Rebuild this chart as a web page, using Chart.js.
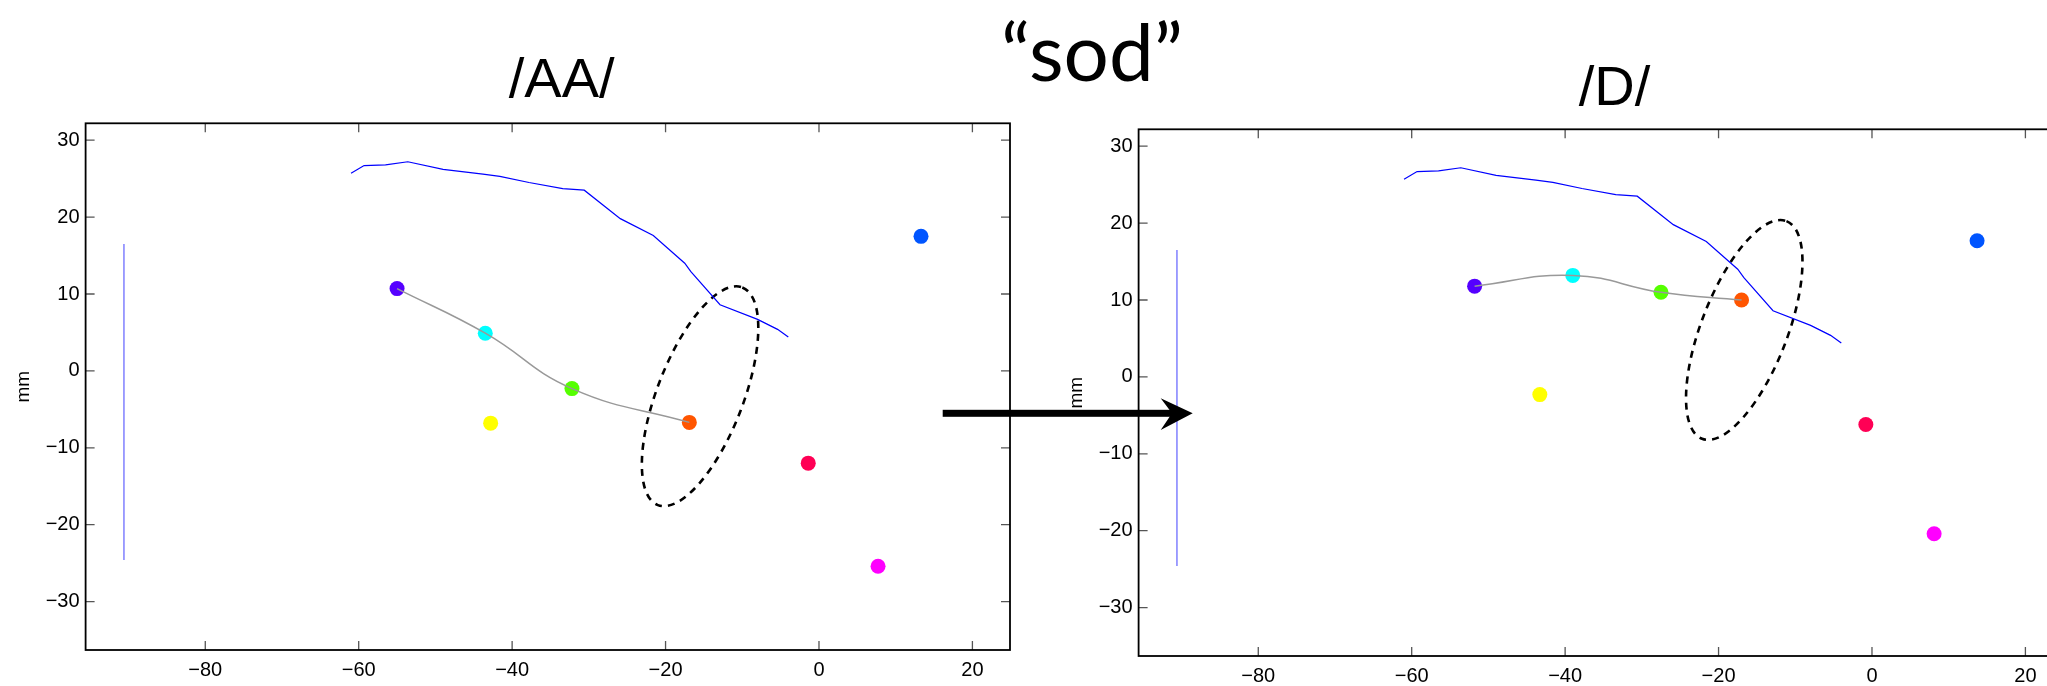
<!DOCTYPE html>
<html>
<head>
<meta charset="utf-8">
<script src="https://cdn.jsdelivr.net/npm/chart.js@4.4.1/dist/chart.umd.min.js"></script>
<style>
  html, body { margin: 0; padding: 0; background: #fff; }
  body { width: 2047px; height: 686px; overflow: hidden; position: relative; }
  .panel { position: absolute; width: 1030px; height: 686px; }
  #panelAA { left: 0; top: 0; }
  #panelD { left: 1052.7px; top: 6px; }
  #overlay { position: absolute; left: 0; top: 0; }
</style>
</head>
<body>
<div class="panel" id="panelAA"><canvas id="chartAA"></canvas></div>
<div class="panel" id="panelD"><canvas id="chartD"></canvas></div>
<svg id="overlay" width="2047" height="686">
  <text x="561.7" y="96.7" text-anchor="middle" font-family="Liberation Sans, Arial, sans-serif" font-size="56">/AA/</text>
  <text x="1614.5" y="105" text-anchor="middle" font-family="Liberation Sans, Arial, sans-serif" font-size="56">/D/</text>
  <text x="1092" y="81" text-anchor="middle" font-family="Lato, sans-serif" font-size="80">“sod”</text>
  <rect x="942.7" y="409.8" width="232" height="7" fill="#000"/>
  <polygon points="1192.7,413.3 1160.7,398.3 1172,413.3 1160.7,430" fill="#000"/>
</svg>
<script>
// palate trace (same in both panels)
const palateX = [-61.0, -59.3, -56.5, -53.6, -49.0, -43.8, -41.6, -37.8, -33.4, -30.6, -25.9, -21.6, -17.5, -16.7, -12.9, -8.0, -5.4, -4.0];
const palateY = [25.7, 26.7, 26.8, 27.2, 26.2, 25.6, 25.3, 24.5, 23.7, 23.5, 19.8, 17.6, 14.0, 12.9, 8.6, 6.7, 5.4, 4.4];

// reference line at the incisors
const refLineX = [-90.6, -90.6];
const refLineY = [16.5, -24.6];

// sensor colours; the first four sit on the tongue contour
const sensorColors = ['#5500ff', '#00ffff', '#55ff00', '#ff5500', '#ffff00', '#ff0055', '#ff00ff', '#0055ff'];
const aaSensorX = [-55.0, -43.5, -32.2, -16.9, -42.8, -1.4, 7.7, 13.3];
const aaSensorY = [10.7, 4.9, -2.3, -6.7, -6.8, -12.0, -25.4, 17.5];
const dSensorX = [-51.8, -39.0, -27.5, -17.0, -43.3, -0.8, 8.1, 13.7];
const dSensorY = [11.8, 13.2, 11.0, 10.0, -2.3, -6.2, -20.4, 17.7];
const tongueCount = 4;

// target ellipse: centre per panel, semi-axes and tilt (deg)
const aaEllipseCenter = [-15.5, -3.3];
const dEllipseCenter = [-16.65, 6.1];
const ellipseAxes = [15.2, 5.6];
const ellipseAngle = 68.8;

const xTicks = [-80, -60, -40, -20, 0, 20];
const yTicks = [-30, -20, -10, 0, 10, 20, 30];

const toPoints = (xs, ys) => xs.map((v, i) => ({ x: v, y: ys[i] }));
const fmt = v => (v < 0 ? '\u2212' + Math.abs(v) : String(v));

// box around the axes with inward ticks on all sides, plus the dashed ellipse
const boxPlugin = {
  id: 'box',
  beforeDatasetsDraw(chart, args, opts) {
    const { ctx, scales: { x, y } } = chart;
    const c = opts.center;
    const cx = x.getPixelForValue(c[0]);
    const cy = y.getPixelForValue(c[1]);
    const ppu = (Math.abs(x.getPixelForValue(1) - x.getPixelForValue(0)) +
                 Math.abs(y.getPixelForValue(1) - y.getPixelForValue(0))) / 2;
    ctx.save();
    ctx.beginPath();
    ctx.ellipse(cx, cy, ellipseAxes[0] * ppu, ellipseAxes[1] * ppu, -ellipseAngle * Math.PI / 180, 0, Math.PI * 2);
    ctx.setLineDash([7, 6]);
    ctx.lineWidth = 2.6;
    ctx.strokeStyle = '#000';
    ctx.stroke();
    ctx.restore();
  },
  afterDraw(chart) {
    const { ctx, chartArea: a, scales: { x, y } } = chart;
    const len = 9;
    ctx.save();
    ctx.strokeStyle = '#555';
    ctx.lineWidth = 1.3;
    ctx.beginPath();
    xTicks.forEach(v => {
      const px = x.getPixelForValue(v);
      ctx.moveTo(px, a.bottom); ctx.lineTo(px, a.bottom - len);
      ctx.moveTo(px, a.top); ctx.lineTo(px, a.top + len);
    });
    yTicks.forEach(v => {
      const py = y.getPixelForValue(v);
      ctx.moveTo(a.left, py); ctx.lineTo(a.left + len, py);
      ctx.moveTo(a.right, py); ctx.lineTo(a.right - len, py);
    });
    ctx.stroke();
    ctx.strokeStyle = '#000';
    ctx.lineWidth = 1.8;
    ctx.strokeRect(a.left, a.top, a.right - a.left, a.bottom - a.top);
    ctx.restore();
  }
};

const tickFont = { family: 'Liberation Sans, Arial, sans-serif', size: 20 };

function makeChart(id, sx, sy, center) {
  return new Chart(document.getElementById(id), {
    type: 'scatter',
    data: {
      datasets: [
        {
          data: toPoints(palateX, palateY),
          showLine: true, borderColor: '#0000ff', borderWidth: 1.2, pointRadius: 0
        },
        {
          data: toPoints(refLineX, refLineY),
          showLine: true, borderColor: '#6060ff', borderWidth: 1.2, pointRadius: 0
        },
        {
          data: toPoints(sx.slice(0, tongueCount), sy.slice(0, tongueCount)),
          showLine: true, tension: 0.45, borderColor: '#999999', borderWidth: 1.5, pointRadius: 0
        },
        {
          data: toPoints(sx, sy),
          pointRadius: 7.5, pointBackgroundColor: sensorColors, pointBorderWidth: 0
        }
      ]
    },
    options: {
      responsive: true,
      maintainAspectRatio: false,
      animation: false,
      devicePixelRatio: 1,
      layout: { padding: { top: 123.3, right: 20, bottom: 0, left: 0 } },
      plugins: {
        legend: { display: false },
        tooltip: { enabled: false },
        box: { center: center }
      },
      scales: {
        x: {
          type: 'linear', min: -95.6, max: 24.9,
          grid: { display: false, drawTicks: false },
          border: { display: false },
          ticks: { font: tickFont, color: '#000', padding: 8, callback: fmt },
          afterBuildTicks: s => { s.ticks = xTicks.map(v => ({ value: v })); },
          afterFit: s => { s.height = 36; }
        },
        y: {
          type: 'linear', min: -36.3, max: 32.2,
          grid: { display: false, drawTicks: false },
          border: { display: false },
          ticks: { font: tickFont, color: '#000', padding: 6, callback: fmt },
          afterBuildTicks: s => { s.ticks = yTicks.map(v => ({ value: v })); },
          afterFit: s => { s.width = 85.6; },
          title: { display: true, text: 'mm', color: '#000', font: { family: tickFont.family, size: 19 }, padding: { top: 12, bottom: 0 } }
        }
      }
    },
    plugins: [boxPlugin]
  });
}

makeChart('chartAA', aaSensorX, aaSensorY, aaEllipseCenter);
makeChart('chartD', dSensorX, dSensorY, dEllipseCenter);
</script>
</body>
</html>
